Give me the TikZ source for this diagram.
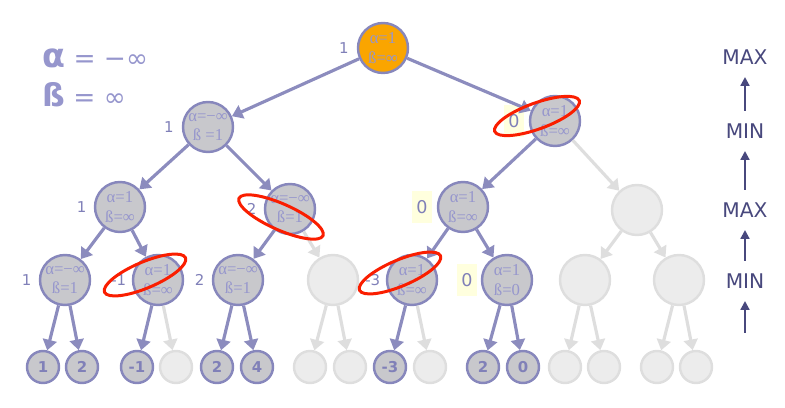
\documentclass[tikz,border=0pt]{standalone}
\usepackage{fontspec}
\setmainfont{Liberation Serif}
\newfontfamily\labfont{DejaVu Sans}
\usetikzlibrary{arrows.meta,positioning}
\usepackage{xcolor}
\definecolor{edgec}{RGB}{140,140,190}
\definecolor{bordc}{RGB}{135,135,188}
\definecolor{txtc}{RGB}{150,150,205}
\definecolor{numc}{RGB}{128,128,184}
\definecolor{fillc}{RGB}{200,200,204}
\definecolor{offfill}{RGB}{236,236,236}
\definecolor{offdraw}{RGB}{222,222,222}
\definecolor{rootc}{RGB}{250,165,0}
\definecolor{hiyel}{RGB}{255,255,222}
\definecolor{navy}{RGB}{72,72,125}
\definecolor{cutred}{RGB}{250,30,0}
\newcommand{\ab}[2]{α=#1\\ß=#2}

\begin{document}
\begin{tikzpicture}[x=0.02cm,y=-0.02cm,
  ab/.style={circle,draw=bordc,line width=1.4pt,fill=fillc,minimum size=1cm,inner sep=0pt,
    align=center,text=txtc,font=\fontsize{9.5}{11}\selectfont},
  leaf/.style={circle,draw=bordc,line width=1.4pt,fill=fillc,minimum size=0.64cm,inner sep=0pt,
    text=numc,font=\labfont\bfseries\fontsize{8.5}{9}\selectfont},
  off/.style={draw=offdraw,fill=offfill},
  val/.style={inner sep=0.5pt,text=numc,font=\labfont\fontsize{8.5}{9}\selectfont},
  hl/.style={fill=hiyel,minimum width=0.4cm,minimum height=0.64cm,font=\labfont\fontsize{10}{11}\selectfont},
  on/.style={draw=edgec,line width=1.8pt,-{Triangle[length=6pt,width=8pt]}},
  offedge/.style={on,draw=offdraw},
  cut/.style={draw=cutred,line width=1.7pt},
  lvl/.style={inner sep=0pt,text=navy,font=\labfont\fontsize{11.5}{12}\selectfont},
  up/.style={draw=navy,line width=1.2pt,-{Triangle[length=5pt,width=5pt]},
    shorten <=7pt,shorten >=7pt}]
\useasboundingbox (0,0) rectangle (785,408);

% legend
\node[anchor=west,text=txtc,font=\labfont\fontsize{15}{16}\selectfont] (alpha) at (36,58) {{\bfseries\fontsize{19}{20}\selectfont α} = −∞};
\node[anchor=west,text=txtc,font=\labfont\fontsize{15}{16}\selectfont] (beta) at (36,95) {{\bfseries\fontsize{18}{20}\selectfont ß} = ∞};

% tree
\node[ab,fill=rootc] (r) at (383,48) {\ab{1}{∞}};
\node[ab] (a) at (208,127) {α=−∞\\ß =1};
\node[ab] (b) at (555,121) {\ab{1}{∞}};
\node[ab] (c) at (120,207) {\ab{1}{∞}};
\node[ab] (d) at (290,209) {\ab{−∞}{1}};
\node[ab] (e) at (463,207) {\ab{1}{∞}};
\node[ab,off] (f) at (637,210) {};
\node[ab] (g1) at (65,280) {\ab{−∞}{1}};
\node[ab] (g2) at (158,280) {\ab{1}{∞}};
\node[ab] (g3) at (238,280) {\ab{−∞}{1}};
\node[ab,off] (g4) at (333,280) {};
\node[ab] (g5) at (412,280) {\ab{1}{∞}};
\node[ab] (g6) at (507,280) {\ab{1}{0}};
\node[ab,off] (g7) at (585,280) {};
\node[ab,off] (g8) at (679,280) {};

\node[leaf] (l1) at (43,367) {1};
\node[leaf] (l2) at (82,367) {2};
\node[leaf] (l3) at (137,367) {-1};
\node[leaf,off] (l4) at (176,367) {};
\node[leaf] (l5) at (217,367) {2};
\node[leaf] (l6) at (257,367) {4};
\node[leaf,off] (l7) at (310,367) {};
\node[leaf,off] (l8) at (350,367) {};
\node[leaf] (l9) at (390,367) {-3};
\node[leaf,off] (l10) at (430,367) {};
\node[leaf] (l11) at (483,367) {2};
\node[leaf] (l12) at (523,367) {0};
\node[leaf,off] (l13) at (565,367) {};
\node[leaf,off] (l14) at (604,367) {};
\node[leaf,off] (l15) at (657,367) {};
\node[leaf,off] (l16) at (696,367) {};

% values
\node[val,left=4pt of r] (vr) {1};
\node[val,left=4pt of a] (va) {1};
\node[val,hl,left=2.5pt of b] (vb) {0};
\node[val,left=3.5pt of c] (vc) {1};
\node[val,left=3.5pt of d] (vd) {2};
\node[val,hl,left=2.5pt of e] (ve) {0};
\node[val,left=3.5pt of g1] (vg1) {1};
\node[val,left=2.5pt of g2] (vg2) {-1};
\node[val,left=3.5pt of g3] (vg3) {2};
\node[val,left=2.5pt of g5] (vg5) {-3};
\node[val,hl,left=2pt of g6] (vg6) {0};

% edges
\draw[on] (r) -- (a);
\draw[on] (r) -- (b);
\draw[on] (a) -- (c);
\draw[on] (a) -- (d);
\draw[on] (b) -- (e);
\draw[offedge] (b) -- (f);
\draw[on] (c) -- (g1);
\draw[on] (c) -- (g2);
\draw[on] (d) -- (g3);
\draw[offedge] (d) -- (g4);
\draw[on] (e) -- (g5);
\draw[on] (e) -- (g6);
\draw[offedge] (f) -- (g7);
\draw[offedge] (f) -- (g8);
\draw[on] (g1) -- (l1);
\draw[on] (g1) -- (l2);
\draw[on] (g2) -- (l3);
\draw[offedge] (g2) -- (l4);
\draw[on] (g3) -- (l5);
\draw[on] (g3) -- (l6);
\draw[offedge] (g4) -- (l7);
\draw[offedge] (g4) -- (l8);
\draw[on] (g5) -- (l9);
\draw[offedge] (g5) -- (l10);
\draw[on] (g6) -- (l11);
\draw[on] (g6) -- (l12);
\draw[offedge] (g7) -- (l13);
\draw[offedge] (g7) -- (l14);
\draw[offedge] (g8) -- (l15);
\draw[offedge] (g8) -- (l16);

% cut-offs
\draw[cut,rotate around={20:(537,116)}] (537,116) ellipse [x radius=0.9cm,y radius=0.26cm];
\draw[cut,rotate around={-24:(281,217)}] (281,217) ellipse [x radius=0.92cm,y radius=0.26cm];
\draw[cut,rotate around={23:(145,275)}] (145,275) ellipse [x radius=0.88cm,y radius=0.26cm];
\draw[cut,rotate around={23:(400,273)}] (400,273) ellipse [x radius=0.88cm,y radius=0.26cm];

% levels
\node[lvl] (max1) at (745,57) {MAX};
\node[lvl] (min1) at (745,131) {MIN};
\node[lvl] (max2) at (745,210) {MAX};
\node[lvl] (min2) at (745,281) {MIN};
\coordinate (foot) at (745,345);
\draw[up] (min1) -- (max1);
\draw[up] (max2) -- (min1);
\draw[up] (min2) -- (max2);
\draw[up] (foot) -- (min2);
\end{tikzpicture}
\end{document}
